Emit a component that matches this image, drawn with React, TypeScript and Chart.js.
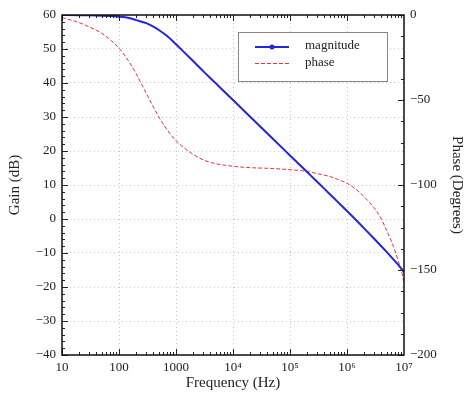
import React, { useEffect, useRef } from "react";
import { Chart, registerables } from "chart.js";

Chart.register(...registerables);

// ---- data ----
const frequencies = [10, 20, 30, 50, 70, 100, 150, 200, 300, 400, 500, 700, 1000, 1500, 2000, 3000, 5000, 7000, 1e4, 2e4, 5e4, 1e5, 2e5, 3e5, 5e5, 7e5, 1e6, 1.5e6, 2e6, 3e6, 4e6, 5e6, 6e6, 7e6, 8e6, 9e6, 1e7];
const gainDb = [60, 59.95, 59.9, 59.8, 59.7, 59.5, 59.1, 58.5, 57.6, 56.6, 55.6, 53.8, 51.4, 48.5, 46.45, 43.5, 39.9, 37.5, 35, 30.1, 23.6, 18.7, 13.8, 10.95, 7.3, 4.9, 2.35, -0.6, -2.75, -5.8, -8, -9.75, -11.2, -12.45, -13.55, -14.6, -15.6];
const phaseDeg = [-1.5, -4.5, -7, -10.8, -14.5, -19.5, -27.5, -34.5, -46, -54, -60, -67.5, -74, -79, -82, -85.2, -87.5, -88.3, -89, -89.8, -90.3, -91, -92, -93.3, -95, -96.8, -99, -103, -107, -113.5, -120, -127, -133, -139, -145, -150.5, -157];

const seriesLabels = ["magnitude", "phase"];
const xTickValues = [10, 100, 1000, 1e4, 1e5, 1e6, 1e7];
const xTickLabels = ["10", "100", "1000", "10\u2074", "10\u2075", "10\u2076", "10\u2077"];
const gainTickValues = [-40, -30, -20, -10, 0, 10, 20, 30, 40, 50, 60];
const phaseTickValues = [-200, -150, -100, -50, 0];

const FONT = "'Liberation Serif', 'DejaVu Serif', serif";
const BLUE = "#2424dc";
const RED = "#e8333f";

const fmtMinus = (v: number) => String(v).replace("-", "\u2212");

const framePlugin = {
  id: "frameTicks",
  afterDraw(chart: any) {
    const { ctx, chartArea } = chart;
    const { left, right, top, bottom } = chartArea;
    const x = chart.scales.x;
    const yl = chart.scales.y;
    const yr = chart.scales.y2;
    ctx.save();
    ctx.strokeStyle = "#222";
    ctx.lineWidth = 1;
    // x ticks (major + minor) on bottom and top, inward
    for (let d = 1; d < 7; d++) {
      for (let m = 1; m <= 9; m++) {
        const v = m * Math.pow(10, d);
        if (v > 1e7) continue;
        const px = Math.round(x.getPixelForValue(v)) + 0.5;
        const len = m === 1 ? 6 : 3;
        ctx.beginPath();
        ctx.moveTo(px, bottom);
        ctx.lineTo(px, bottom - len);
        ctx.moveTo(px, top);
        ctx.lineTo(px, top + len);
        ctx.stroke();
      }
    }
    // left ticks
    for (let v = -40; v <= 60; v += 2) {
      const py = Math.round(yl.getPixelForValue(v)) + 0.5;
      const len = v % 10 === 0 ? 6 : 3;
      ctx.beginPath();
      ctx.moveTo(left, py);
      ctx.lineTo(left + len, py);
      ctx.stroke();
    }
    // right ticks
    for (let v = -200; v <= 0; v += 12.5) {
      const py = Math.round(yr.getPixelForValue(v)) + 0.5;
      const len = v % 50 === 0 ? 6 : 3;
      ctx.beginPath();
      ctx.moveTo(right, py);
      ctx.lineTo(right - len, py);
      ctx.stroke();
    }
    // frame
    ctx.lineWidth = 1.5;
    ctx.strokeStyle = "#111";
    ctx.strokeRect(left, top, right - left, bottom - top);

    // legend box
    const bx = 238, by = 32, bw = 149, bh = 49;
    ctx.fillStyle = "#fff";
    ctx.fillRect(bx, by, bw, bh);
    ctx.lineWidth = 1;
    ctx.strokeStyle = "#888";
    ctx.strokeRect(bx + 0.5, by + 0.5, bw, bh);
    // magnitude
    ctx.strokeStyle = BLUE;
    ctx.lineWidth = 2;
    ctx.beginPath();
    ctx.moveTo(255, 47);
    ctx.lineTo(289, 47);
    ctx.stroke();
    ctx.fillStyle = BLUE;
    ctx.beginPath();
    ctx.arc(272, 47, 2.5, 0, Math.PI * 2);
    ctx.fill();
    // phase
    ctx.strokeStyle = RED;
    ctx.lineWidth = 1;
    ctx.setLineDash([4, 2]);
    ctx.beginPath();
    ctx.moveTo(255, 63.5);
    ctx.lineTo(289, 63.5);
    ctx.stroke();
    ctx.setLineDash([]);
    ctx.fillStyle = "#222";
    ctx.font = `13px ${FONT}`;
    ctx.textBaseline = "middle";
    ctx.textAlign = "left";
    ctx.fillText(seriesLabels[0], 305, 46);
    ctx.fillText(seriesLabels[1], 305, 63);
    ctx.restore();
  },
};

export default function App() {
  const canvasRef = useRef<HTMLCanvasElement | null>(null);

  useEffect(() => {
    document.body.style.margin = "0";
    const canvas = canvasRef.current;
    if (!canvas) return;
    const chart = new Chart(canvas, {
      type: "line",
      data: {
        datasets: [
          {
            label: seriesLabels[0],
            data: frequencies.map((f, i) => ({ x: f, y: gainDb[i] })),
            borderColor: BLUE,
            backgroundColor: BLUE,
            borderWidth: 2,
            pointRadius: 0,
            cubicInterpolationMode: "monotone",
            yAxisID: "y",
          },
          {
            label: seriesLabels[1],
            data: frequencies.map((f, i) => ({ x: f, y: phaseDeg[i] })),
            borderColor: RED,
            backgroundColor: RED,
            borderWidth: 1,
            borderDash: [4, 2],
            pointRadius: 0,
            cubicInterpolationMode: "monotone",
            yAxisID: "y2",
          },
        ],
      },
      options: {
        animation: false,
        responsive: false,
        maintainAspectRatio: false,
        layout: { padding: { top: 15, left: 0, right: 0, bottom: 0 } },
        plugins: { legend: { display: false }, tooltip: { enabled: false } },
        scales: {
          x: {
            type: "logarithmic",
            position: "bottom",
            min: 10,
            max: 1e7,
            afterBuildTicks: (scale: any) => {
              scale.ticks = xTickValues.map((v) => ({ value: v }));
            },
            afterFit: (scale: any) => {
              scale.height = 51;
            },
            ticks: {
              autoSkip: false,
              maxRotation: 0,
              padding: 5,
              color: "#222",
              font: { family: FONT, size: 13 },
              callback: (value: any) => {
                const i = xTickValues.indexOf(Number(value));
                return i >= 0 ? xTickLabels[i] : "";
              },
            },
            grid: { color: "#c8c8c8", drawTicks: false, lineWidth: 1 },
            border: { display: false, dash: [1, 3] },
            title: {
              display: true,
              text: "Frequency (Hz)",
              color: "#222",
              font: { family: FONT, size: 15 },
              padding: { top: 0, bottom: 14 },
            },
          },
          y: {
            type: "linear",
            position: "left",
            min: -40,
            max: 60,
            afterBuildTicks: (scale: any) => {
              scale.ticks = gainTickValues.map((v) => ({ value: v }));
            },
            afterFit: (scale: any) => {
              scale.width = 62;
            },
            ticks: {
              padding: 6,
              color: "#222",
              font: { family: FONT, size: 13 },
              callback: (value: any) => fmtMinus(Number(value)),
            },
            grid: { color: "#c8c8c8", drawTicks: false, lineWidth: 1 },
            border: { display: false, dash: [1, 3] },
            title: {
              display: true,
              text: "Gain (dB)",
              color: "#222",
              font: { family: FONT, size: 15 },
              padding: { top: 6, bottom: 0 },
            },
          },
          y2: {
            type: "linear",
            position: "right",
            min: -200,
            max: 0,
            afterBuildTicks: (scale: any) => {
              scale.ticks = phaseTickValues.map((v) => ({ value: v }));
            },
            afterFit: (scale: any) => {
              scale.width = 64;
            },
            ticks: {
              padding: 6,
              color: "#222",
              font: { family: FONT, size: 13 },
              callback: (value: any) => fmtMinus(Number(value)),
            },
            grid: { drawOnChartArea: false, drawTicks: false },
            border: { display: false },
            title: {
              display: true,
              text: "Phase (Degrees)",
              color: "#222",
              font: { family: FONT, size: 15 },
              padding: { top: 2, bottom: 0 },
            },
          },
        },
      } as any,
      plugins: [framePlugin],
    });
    return () => chart.destroy();
  }, []);

  return (
    <div style={{ width: 468, height: 406, background: "#fff" }}>
      <canvas ref={canvasRef} width={468} height={406} style={{ display: "block" }} />
    </div>
  );
}
